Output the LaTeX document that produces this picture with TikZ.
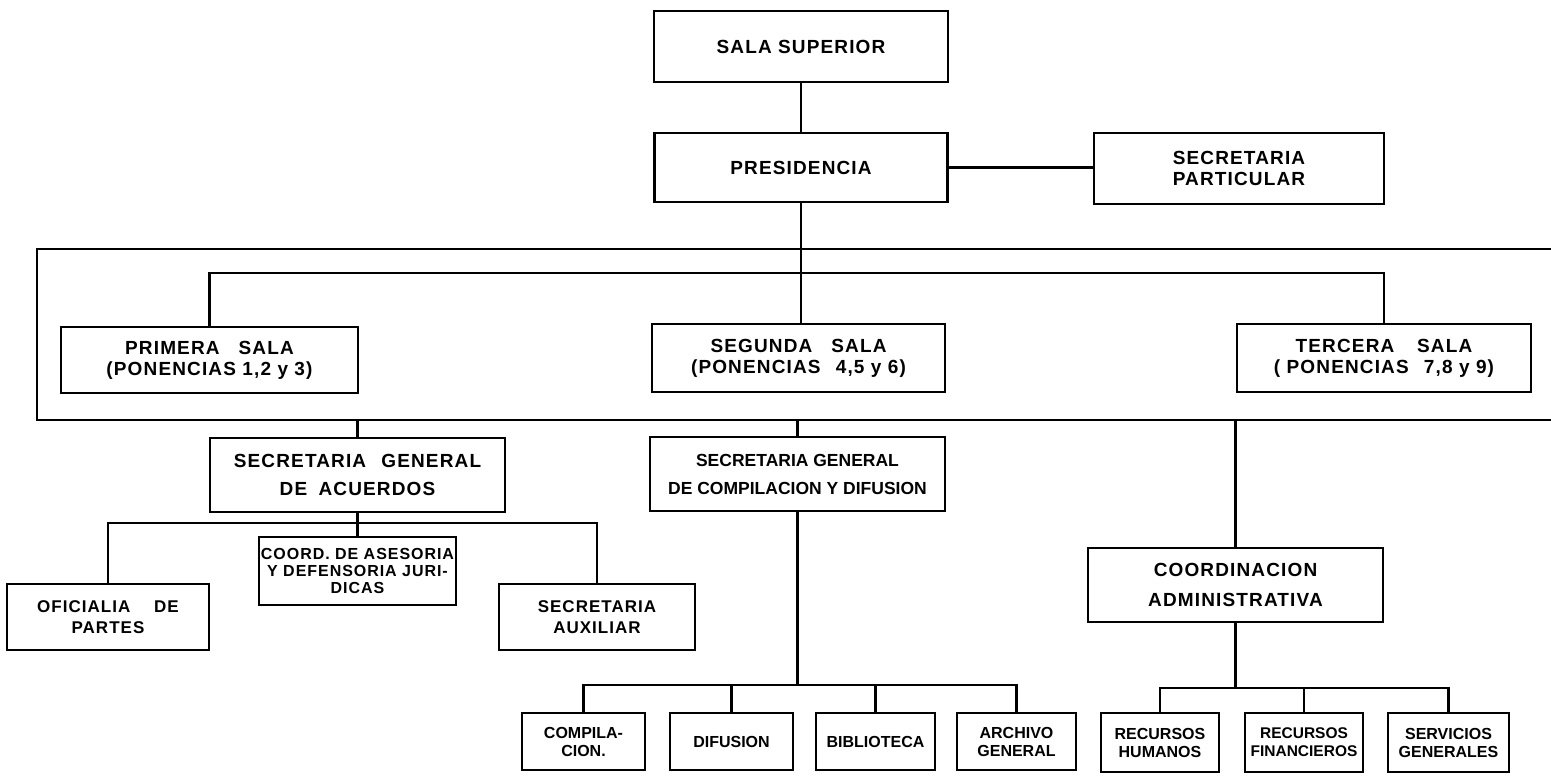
\documentclass[tikz,border=0pt]{standalone}
\usepackage{fontspec}
\setmainfont{Liberation Sans}
\newfontfamily\rotulo[LetterSpace=6]{Liberation Sans}
\usetikzlibrary{calc}
\tikzset{
caja/.style={draw, line width=2.8pt, align=center, inner sep=2pt, font=\rotulo\bfseries\fontsize{19}{21}\selectfont},
cajamedia/.style={caja, font=\rotulo\bfseries\fontsize{17}{21}\selectfont},
cajachica/.style={caja, font=\bfseries\fontsize{16}{18}\selectfont},
linea/.style={line width=2.8pt}
}
\begin{document}
\begin{tikzpicture}[x=1pt,y=-1pt]
\useasboundingbox (0,0) rectangle (1551,783);
\node[caja,minimum width=294pt,minimum height=71pt] (sala) at (801,46.5) {SALA SUPERIOR};
\node[caja,minimum width=293pt,minimum height=69pt] (presidencia) at (801,167.5) {PRESIDENCIA};
\node[caja,minimum width=290pt,minimum height=71pt,align=left] (secpart) at (1239,168.5) {SECRETARIA\\PARTICULAR};
\node[caja,minimum width=297pt,minimum height=66pt] (primera) at (209.5,360) {PRIMERA\hspace{1em}SALA\\(PONENCIAS 1,2 y 3)};
\node[caja,minimum width=293pt,minimum height=68pt] (segunda) at (798.5,358) {SEGUNDA\hspace{1em}SALA\\(PONENCIAS\hspace{0.8em}4,5 y 6)};
\node[caja,minimum width=294pt,minimum height=68pt] (tercera) at (1384,358) {TERCERA\hspace{1.2em}SALA\\( PONENCIAS\hspace{0.8em}7,8 y 9)};
\node[caja,minimum width=295pt,minimum height=74pt,font=\rotulo\bfseries\fontsize{19}{28}\selectfont] (acuerdos) at (357.5,475) {SECRETARIA\hspace{0.8em}GENERAL\\DE\hspace{0.6em}ACUERDOS};
\node[caja,minimum width=295pt,minimum height=74pt,font=\bfseries\fontsize{17.5}{28}\selectfont] (compgral) at (797.5,474) {SECRETARIA GENERAL\\DE COMPILACION Y DIFUSION};
\node[caja,minimum width=295pt,minimum height=74pt,font=\rotulo\bfseries\fontsize{19}{30}\selectfont] (coordadm) at (1235.5,585) {COORDINACION\\ADMINISTRATIVA};
\node[cajamedia,minimum width=196pt,minimum height=68pt,font=\rotulo\bfseries\fontsize{16}{17}\selectfont] (asesoria) at (357.5,571) {COORD. DE ASESORIA\\Y DEFENSORIA JURI-\\DICAS};
\node[cajamedia,minimum width=202pt,minimum height=66pt] (oficialia) at (108,617) {OFICIALIA\hspace{1.4em}DE\\PARTES};
\node[cajamedia,minimum width=196pt,minimum height=66pt] (secaux) at (597,617) {SECRETARIA\\AUXILIAR};
\node[cajachica,minimum width=123pt,minimum height=57pt] (compilacion) at (583.5,741.5) {COMPILA-\\CION.};
\node[cajachica,minimum width=123pt,minimum height=57pt] (difusion) at (731.5,741.5) {DIFUSION};
\node[cajachica,minimum width=119pt,minimum height=57pt] (biblioteca) at (875.5,741.5) {BIBLIOTECA};
\node[cajachica,minimum width=119pt,minimum height=57pt] (archivo) at (1016.5,741.5) {ARCHIVO\\GENERAL};
\node[cajachica,minimum width=118pt,minimum height=59pt] (rechum) at (1160,742.5) {RECURSOS\\HUMANOS};
\node[cajachica,minimum width=118pt,minimum height=59pt,font=\bfseries\fontsize{15.5}{18}\selectfont] (recfin) at (1304,742.5) {RECURSOS\\FINANCIEROS};
\node[cajachica,minimum width=121pt,minimum height=59pt] (servgen) at (1448.5,742.5) {SERVICIOS\\GENERALES};
% lazo de las salas
\coordinate (lazoA) at (37,249);
\coordinate (lazoB) at (1551,249);
\coordinate (lazoC) at (37,420);
\coordinate (lazoD) at (1551,420);
\coordinate (bus1) at (0,273);
\coordinate (bus2) at (0,523);
\coordinate (bus3) at (0,685);
\coordinate (bus4) at (0,688);
\draw[linea] (sala.south) -- (sala.south |- presidencia.north);
\draw[linea] (presidencia.east) -- (presidencia.east -| secpart.west);
\draw[linea] (lazoB) -- (lazoA) -- (lazoC) -- (lazoD);
\draw[linea] (presidencia.south) -- (presidencia.south |- segunda.north);
\draw[linea] (primera.north) -- (primera.north |- bus1) -- (tercera.north |- bus1) -- (tercera.north);
\foreach \n in {acuerdos,compgral,coordadm}
\draw[linea] (\n.north) -- (\n.north |- lazoC);
% dependencias
\draw[linea] (acuerdos.south) -- (asesoria.north);
\draw[linea] (oficialia.north) -- (oficialia.north |- bus2) -- (secaux.north |- bus2) -- (secaux.north);
\draw[linea] (compgral.south) -- (compgral.south |- bus3);
\draw[linea] (compilacion.north) -- (compilacion.north |- bus3) -- (archivo.north |- bus3) -- (archivo.north);
\foreach \n in {difusion,biblioteca}
\draw[linea] (\n.north) -- (\n.north |- bus3);
\draw[linea] (coordadm.south) -- (coordadm.south |- bus4);
\draw[linea] (rechum.north) -- (rechum.north |- bus4) -- (servgen.north |- bus4) -- (servgen.north);
\draw[linea] (recfin.north) -- (recfin.north |- bus4);
\end{tikzpicture}
\end{document}
